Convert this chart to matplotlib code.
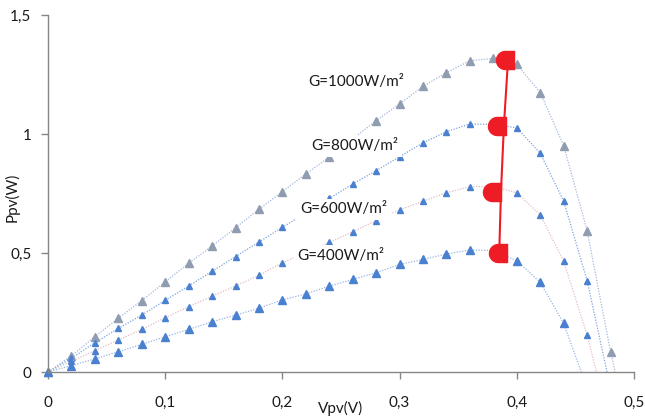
import numpy as np
import matplotlib.pyplot as plt
from matplotlib.path import Path

# tensions (V) des points mesures
v = [0, 0.02, 0.04, 0.06, 0.08, 0.10, 0.12, 0.14, 0.16, 0.18, 0.20, 0.22,
     0.24, 0.26, 0.28, 0.30, 0.32, 0.34, 0.36, 0.38, 0.40, 0.42, 0.44,
     0.46, 0.48]

# puissances (W) pour chaque eclairement
p1000 = [0, 0.068, 0.148, 0.226, 0.30, 0.378, 0.457, 0.529, 0.606, 0.684,
         0.758, 0.832, 0.903, 0.98, 1.056, 1.127, 1.20, 1.258, 1.308, 1.318,
         1.293, 1.174, 0.951, 0.594, 0.085]
p800 = [0, 0.058, 0.123, 0.183, 0.239, 0.301, 0.361, 0.423, 0.485, 0.546,
        0.608, 0.668, 0.729, 0.79, 0.846, 0.905, 0.963, 1.01, 1.042, 1.04,
        1.026, 0.919, 0.718, 0.384]
p600 = [0, 0.045, 0.090, 0.134, 0.179, 0.228, 0.274, 0.319, 0.361, 0.406,
        0.459, 0.502, 0.545, 0.589, 0.636, 0.681, 0.718, 0.753, 0.779, 0.78,
        0.753, 0.66, 0.466, 0.155]
p400 = [0, 0.027, 0.055, 0.085, 0.116, 0.148, 0.179, 0.211, 0.239, 0.268,
        0.303, 0.328, 0.361, 0.389, 0.417, 0.452, 0.473, 0.496, 0.513, 0.51,
        0.468, 0.377, 0.204]
voc = [0.484, 0.477, 0.468, 0.455]   # tension a vide (P=0)

labels = ['G=1000W/m²', 'G=800W/m²', 'G=600W/m²', 'G=400W/m²']
lab_v = [0.263, 0.262, 0.252, 0.250]
lab_p = [1.218, 0.950, 0.683, 0.488]

# points de puissance max
mpp_v = [0.390, 0.383, 0.379, 0.384]
mpp_p = [1.31, 1.035, 0.757, 0.499]
mpp_line_v = [0.3925, 0.389, 0.3865, 0.385]

xticks = [0, 0.1, 0.2, 0.3, 0.4, 0.5]
xticklabels = ['0', '0,1', '0,2', '0,3', '0,4', '0,5']
yticks = [0, 0.5, 1, 1.5]
yticklabels = ['0', '0,5', '1', '1,5']

plt.rcParams['font.family'] = ['Lato', 'DejaVu Sans']

fig = plt.figure(figsize=(6.45, 4.19), dpi=100)
ax = fig.add_axes([48/645, 47/419, 586/645, 357/419])

curves = [p1000, p800, p600, p400]
line_cols = ['#a3b8e0', '#7fa4e0', '#e2bcc4', '#96b6e8']
mk_cols = ['#909cb0', '#4a80d0', '#4a80d0', '#4a80d0']
mk_size = [5.2, 4.3, 4.3, 5.6]

for i, p in enumerate(curves):
    xs = v[:len(p)] + [voc[i]]
    ys = p + [0]
    ax.plot(xs, ys, linestyle=(0, (1, 1.2)), lw=0.9, color=line_cols[i],
            marker='^', ms=mk_size[i], mfc=mk_cols[i], mec=mk_cols[i],
            markevery=list(range(len(p))), zorder=2, clip_on=False)

for i, t in enumerate(labels):
    ax.text(lab_v[i], lab_p[i], t, fontsize=11, color='#1a1a1a',
            ha='center', va='center', zorder=3,
            bbox=dict(boxstyle='square,pad=0.25', fc='white', ec='none'))

# marqueur rond a gauche, carre a droite
ang = np.linspace(np.pi/2, 3*np.pi/2, 20)
verts = list(zip(0.5*np.cos(ang), 0.5*np.sin(ang))) + [(0.5, -0.5), (0.5, 0.5), (0, 0.5)]
dmark = Path(verts + [verts[0]], closed=True)

ax.plot(mpp_line_v, mpp_p, color='#ee1c25', lw=1.5, zorder=4)
ax.plot(mpp_v, mpp_p, linestyle='none', marker=dmark, ms=13,
        mfc='#ee1c25', mec='#ee1c25', zorder=5)

ax.set_xlim(0, 0.5)
ax.set_ylim(0, 1.5)
ax.set_xticks(xticks)
ax.set_xticklabels(xticklabels)
ax.set_yticks(yticks)
ax.set_yticklabels(yticklabels)

for s in ['top', 'right']:
    ax.spines[s].set_visible(False)
for s in ['left', 'bottom']:
    ax.spines[s].set_color('#868686')
    ax.spines[s].set_linewidth(1.0)
ax.tick_params(axis='both', colors='#868686', length=5, width=1,
               labelsize=11, labelcolor='#1a1a1a')
ax.tick_params(axis='x', pad=12)
ax.tick_params(axis='y', pad=7)

ax.set_xlabel('Vpv(V)', fontsize=11, color='#1a1a1a')
ax.xaxis.set_label_coords(0.5, -0.08)
ax.set_ylabel('Ppv(W)', fontsize=11, color='#1a1a1a')
ax.yaxis.set_label_coords(-0.048, 0.49)

fig.savefig('out.png', dpi=100)
